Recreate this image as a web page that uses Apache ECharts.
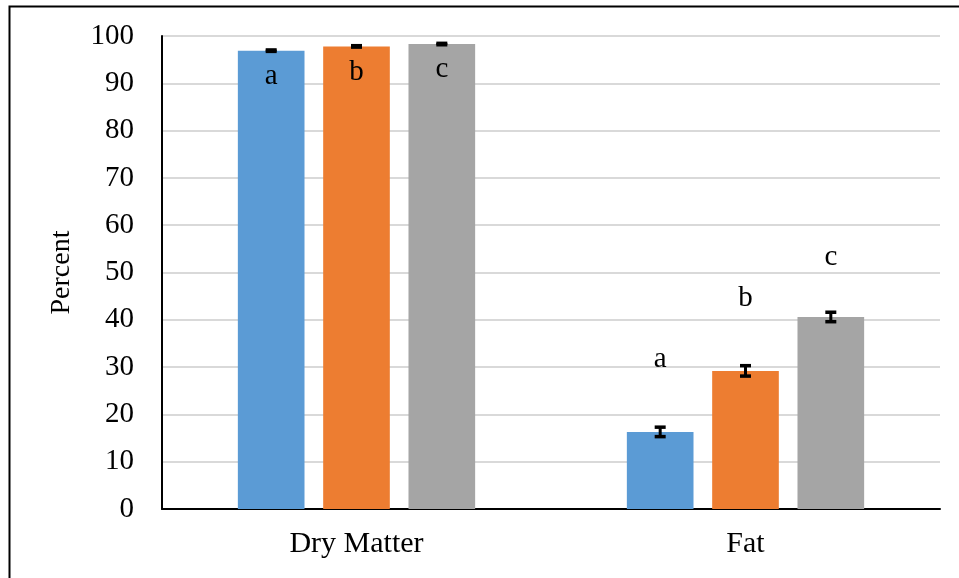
<!DOCTYPE html>
<html>
<head>
<meta charset="utf-8">
<script src="https://cdn.jsdelivr.net/npm/echarts@6/dist/echarts.min.js"></script>
<style>
html,body{margin:0;padding:0;background:#fff;}
#chart{width:959px;height:578px;}
</style>
</head>
<body>
<div id="chart"></div>
<script>
const categories = ['Dry Matter', 'Fat'];
const seriesNames = ['Group 1', 'Group 2', 'Group 3'];
const blueValues = [96.9, 16.3];
const orangeValues = [97.8, 29.2];
const grayValues = [98.3, 40.6];
const blueErrors = [0.15, 1.0];
const orangeErrors = [0.15, 1.1];
const grayErrors = [0.15, 1.0];
const blueLetters = ['a', 'a'];
const orangeLetters = ['b', 'b'];
const grayLetters = ['c', 'c'];
const yTicks = [0, 10, 20, 30, 40, 50, 60, 70, 80, 90, 100];

const colors = ['#5B9BD5', '#ED7D31', '#A5A5A5'];
const FONT = 'Liberation Serif';
const values = [blueValues, orangeValues, grayValues];
const errors = [blueErrors, orangeErrors, grayErrors];
const letters = [blueLetters, orangeLetters, grayLetters];
// label distances for Fat letters (per series)
const fatDist = [58, 58, 45];

const chart = echarts.init(document.getElementById('chart'));

const barSeries = values.map((vals, si) => ({
  name: seriesNames[si],
  type: 'bar',
  barGap: '28%',
  barCategoryGap: '39%',
  itemStyle: { color: colors[si] },
  z: 2,
  data: vals.map((v, ci) => ({
    value: v,
    label: {
      show: true,
      formatter: letters[si][ci],
      position: ci === 0 ? 'insideTop' : 'top',
      distance: ci === 0 ? 11 : fatDist[si],
      fontFamily: FONT,
      fontSize: 29,
      color: '#000'
    }
  }))
}));

const errSeries = values.map((vals, si) => ({
  type: 'custom',
  z: 5,
  silent: true,
  renderItem: function (params, api) {
    const ci = api.value(0);
    const v = api.value(1);
    const e = api.value(2);
    const hi = api.coord([ci, v + e]);
    const lo = api.coord([ci, v - e]);
    const size = api.size([1, 0]);
    const bw = size[0] * (1 - 0.39) / (3 + 2 * 0.28);
    const gap = bw * 0.28;
    const cx = hi[0] + (si - 1) * (bw + gap);
    const hw = 5.5;
    return {
      type: 'group',
      children: [
        { type: 'line', shape: { x1: cx, y1: hi[1], x2: cx, y2: lo[1] }, style: { stroke: '#000', lineWidth: 3 } },
        { type: 'line', shape: { x1: cx - hw, y1: hi[1], x2: cx + hw, y2: hi[1] }, style: { stroke: '#000', lineWidth: 3.5 } },
        { type: 'line', shape: { x1: cx - hw, y1: lo[1], x2: cx + hw, y2: lo[1] }, style: { stroke: '#000', lineWidth: 3.5 } }
      ]
    };
  },
  data: vals.map((v, ci) => [ci, v, errors[si][ci]])
}));

chart.setOption({
  animation: false,
  backgroundColor: '#fff',
  textStyle: { fontFamily: FONT },
  grid: { left: 162, right: 19, top: 36, bottom: 69 },
  graphic: [{
    type: 'rect',
    left: 7, top: 4,
    shape: { width: 1000, height: 700 },
    style: { fill: 'none', stroke: '#000', lineWidth: 2 },
    silent: true
  }],
  xAxis: {
    type: 'category',
    data: categories,
    axisLine: { lineStyle: { color: '#000', width: 2 } },
    axisTick: { show: false },
    axisLabel: { fontFamily: FONT, fontSize: 30, color: '#000', margin: 20 }
  },
  yAxis: {
    type: 'value',
    min: yTicks[0],
    max: yTicks[yTicks.length - 1],
    interval: 10,
    name: 'Percent',
    nameLocation: 'middle',
    nameGap: 86,
    nameTextStyle: { fontFamily: FONT, fontSize: 28, color: '#000' },
    axisLine: { show: true, lineStyle: { color: '#000', width: 2 } },
    axisTick: { show: false },
    axisLabel: { fontFamily: FONT, fontSize: 29, color: '#000', margin: 28 },
    splitLine: { lineStyle: { color: '#D9D9D9', width: 2 } }
  },
  series: barSeries.concat(errSeries)
});
</script>
</body>
</html>
